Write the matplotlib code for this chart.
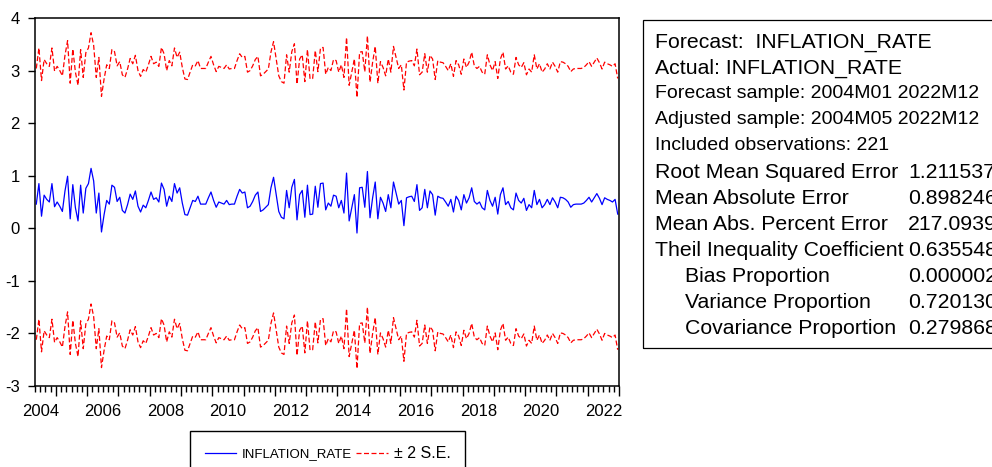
import numpy as np
import matplotlib
matplotlib.use("Agg")
import matplotlib.pyplot as plt
from matplotlib.lines import Line2D
from matplotlib.patches import Rectangle

plt.rcParams['font.family'] = ['Liberation Sans', 'DejaVu Sans']
plt.rcParams['axes.unicode_minus'] = False

# monthly forecast of INFLATION_RATE, 2004M05 .. 2022M12
start_year, start_month = 2004, 5
forecast = [
    0.46, 0.85, 0.23, 0.63, 0.55, 0.50, 0.85, 0.41, 0.50, 0.42, 0.32, 0.71,
    0.99, 0.18, 0.83, 0.39, 0.14, 0.82, 0.29, 0.76, 0.85, 1.14, 0.90, 0.29,
    0.67, -0.07, 0.26, 0.53, 0.46, 0.82, 0.78, 0.51, 0.59, 0.34, 0.29, 0.45,
    0.65, 0.55, 0.71, 0.42, 0.31, 0.44, 0.39, 0.53, 0.69, 0.55,
    0.58, 0.50, 0.86, 0.74, 0.42, 0.61, 0.51, 0.85, 0.67, 0.77, 0.48, 0.26,
    0.25, 0.39, 0.53, 0.51, 0.61, 0.46, 0.46, 0.46, 0.58, 0.69, 0.53, 0.40,
    0.50, 0.48, 0.46, 0.53, 0.45, 0.46, 0.46, 0.61, 0.74, 0.67, 0.69, 0.39,
    0.42, 0.51, 0.63, 0.69, 0.32, 0.35, 0.40, 0.45, 0.77,
    0.97, 0.64, 0.32, 0.21, 0.18, 0.72, 0.39, 0.78, 0.93, 0.16, 0.64, 0.72,
    0.21, 0.82, 0.26, 0.27, 0.80, 0.40, 0.85, 0.86, 0.35, 0.48, 0.42, 0.63,
    0.61, 0.39, 0.53, 0.29, 1.05, 0.14, 0.39, 0.64, -0.09, 0.77, 0.78, 0.40,
    1.08, 0.20, 0.58, 0.88, 0.18, 0.59, 0.48, 0.32,
    0.64, 0.39, 0.88, 0.67, 0.46, 0.53, 0.05, 0.58, 0.60, 0.61, 0.51, 0.83,
    0.34, 0.39, 0.74, 0.39, 0.71, 0.64, 0.25, 0.61, 0.58, 0.57, 0.50, 0.42,
    0.55, 0.31, 0.61, 0.53, 0.35, 0.64, 0.48, 0.58, 0.77, 0.51, 0.46, 0.50,
    0.39, 0.35, 0.72, 0.53, 0.42, 0.59, 0.27, 0.64, 0.77,
    0.45, 0.51, 0.39, 0.35, 0.67, 0.53, 0.48, 0.57, 0.34, 0.45, 0.39, 0.72,
    0.45, 0.55, 0.39, 0.45, 0.55, 0.45, 0.58, 0.50, 0.39, 0.59, 0.58, 0.55,
    0.50, 0.40, 0.45, 0.46, 0.46, 0.46, 0.48, 0.53, 0.59, 0.50, 0.58, 0.66,
    0.57, 0.45, 0.58, 0.55, 0.53, 0.50, 0.55, 0.27,
]
two_se = 2.58

year_labels = list(range(2004, 2023, 2))
yticks = [-3, -2, -1, 0, 1, 2, 3, 4]

stats_head = [
    "Forecast:  INFLATION_RATE",
    "Actual: INFLATION_RATE",
    "Forecast sample: 2004M01 2022M12",
    "Adjusted sample: 2004M05 2022M12",
    "Included observations: 221",
]
stats_names = ["Root Mean Squared Error", "Mean Absolute Error",
               "Mean Abs. Percent Error", "Theil Inequality Coefficient",
               "Bias Proportion", "Variance Proportion",
               "Covariance Proportion"]
stats_indent = [False, False, False, False, True, True, True]
stats_values = ["1.211537", "0.898246", "217.0939", "0.635548",
                "0.000002", "0.720130", "0.279868"]

W, H = 992, 467
fig = plt.figure(figsize=(W / 100, H / 100), dpi=100)
ax = fig.add_axes([35 / W, 1 - 386 / H, 584 / W, 368 / H])

f = np.array(forecast)
x = np.arange(len(f))
ax.plot(x, f, color='#0000ff', lw=0.9)
ax.plot(x, f + two_se, color='#ff0000', lw=0.9, ls=(0, (4, 2)))
ax.plot(x, f - two_se, color='#ff0000', lw=0.9, ls=(0, (4, 2)))

# month k sits at k, boundaries at k - 0.5
def month_index(year, month):
    return (year - start_year) * 12 + (month - start_month)

n = len(f)
ax.set_xlim(-0.5, n - 0.5)
ax.set_ylim(-3, 4)
ax.set_yticks(yticks)

jan = [month_index(y, 1) - 0.5 for y in range(2005, 2024)]
odd = [month_index(2004, 5) - 0.5 + 2 * i for i in range(n // 2 + 1)]
odd = [v for v in odd if v not in jan]
ax.set_xticks(jan)
ax.set_xticklabels([])
ax.set_xticks(odd, minor=True)
ax.tick_params(axis='x', which='major', direction='out', length=7, width=1)
ax.tick_params(axis='x', which='minor', direction='out', length=4, width=1)
ax.tick_params(axis='y', direction='out', length=5, width=1, labelsize=12, pad=6)
for yl in year_labels:
    ax.text(month_index(yl, 7) - 0.5, -0.05, str(yl), transform=ax.get_xaxis_transform(),
            ha='center', va='top', fontsize=12)
for s in ax.spines.values():
    s.set_linewidth(1.1)
    s.set_color('black')

# legend under the plot
handles = [Line2D([], [], color='#0000ff', lw=0.9),
           Line2D([], [], color='#ff0000', lw=0.9, ls=(0, (4, 2)))]
leg = fig.legend(handles, ["INFLATION_RATE", "\u00b1 2 S.E."], loc='upper left',
                 bbox_to_anchor=(190 / W, 1 - 431 / H), ncol=2, fontsize=9.5,
                 frameon=True, fancybox=False, edgecolor='black', framealpha=1,
                 handlelength=2.4, handletextpad=0.45, columnspacing=0.3,
                 borderpad=1.1, borderaxespad=0)
leg.get_frame().set_linewidth(1.0)
leg.get_texts()[1].set_fontsize(11.5)

# statistics box (runs past the right edge, as in the original)
fig.add_artist(Rectangle((643 / W, 1 - 348 / H), 0.5, 328 / H, transform=fig.transFigure,
                         fill=False, edgecolor='black', lw=0.9))
ys = [42 + 26 * i for i in range(12)]
head_sizes = [15.3, 15.3, 14, 14, 14]
for i, t in enumerate(stats_head):
    fig.text(655 / W, 1 - ys[i] / H, t, va='center', ha='left', fontsize=head_sizes[i])
for i, (nm, v) in enumerate(zip(stats_names, stats_values)):
    x0 = 685 if stats_indent[i] else 655
    fig.text(x0 / W, 1 - ys[5 + i] / H, nm, va='center', ha='left', fontsize=15.3)
    fig.text(908 / W, 1 - ys[5 + i] / H, v, va='center', ha='left', fontsize=15.3)

fig.savefig("out.png", dpi=100)
